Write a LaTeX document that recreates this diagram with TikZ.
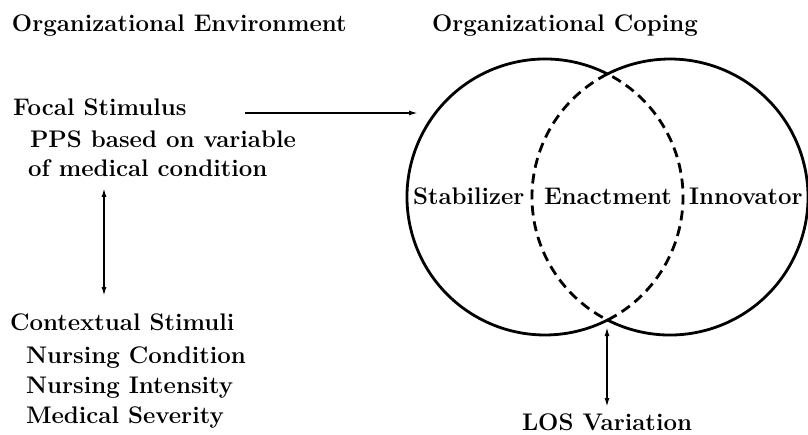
\documentclass[tikz,border=0pt]{standalone}
\usetikzlibrary{arrows.meta}
\tikzset{
  lbl/.style={font=\fontsize{24}{28}\selectfont\bfseries, inner sep=0pt, outer sep=0pt},
  ring/.style={line width=2.8pt},
  ringdash/.style={line width=2.8pt, dash pattern=on 10pt off 6pt},
  link/.style={line width=1.6pt, -{Latex[length=9pt,width=5pt]}},
  twoway/.style={line width=1.6pt, {Latex[length=9pt,width=5pt]}-{Latex[length=9pt,width=5pt]}}
}
\begin{document}
\begin{tikzpicture}[x=1pt,y=1pt]
  \useasboundingbox (0,0) rectangle (808,434);

  % headings
  \node[lbl, anchor=base west] (envtitle) at (12,402) {Organizational Environment};
  \node[lbl, anchor=base] (copetitle) at (565,402) {Organizational Coping};

  % stimuli
  \node[lbl, anchor=base west] (focal) at (13,318) {Focal Stimulus};
  \node[lbl, anchor=base west] (pps) at (30,286) {PPS based on variable};
  \node[lbl, anchor=base west] (ofmed) at (28,257) {of medical condition};

  \node[lbl, anchor=base west] (context) at (10,104) {Contextual Stimuli};
  \node[lbl, anchor=base west] (ncond) at (26,71) {Nursing Condition};
  \node[lbl, anchor=base west] (nint) at (26,41) {Nursing Intensity};
  \node[lbl, anchor=base west] (msev) at (26,11) {Medical Severity};

  % the two coping circles
  \coordinate (L) at (545,237);
  \coordinate (R) at (670,237);
  \draw[ring] (L) ++(62.9:138) arc[start angle=62.9, end angle=297.1, radius=138];
  \draw[ringdash] (L) ++(-62.9:138) arc[start angle=-62.9, end angle=62.9, radius=138];
  \draw[ring] (R) ++(-117.1:138) arc[start angle=-117.1, end angle=117.1, radius=138];
  \draw[ringdash] (R) ++(117.1:138) arc[start angle=117.1, end angle=242.9, radius=138];

  \node[lbl, anchor=base west] (stab) at (413,229) {Stabilizer};
  \node[lbl, anchor=base west] (enact) at (544,229) {Enactment};
  \node[lbl, anchor=base west] (innov) at (689,229) {Innovator};

  \node[lbl, anchor=base] (los) at (607,4) {LOS Variation};

  % connectors
  \coordinate (focalstart) at (245,321);
  \coordinate (focalend) at (418,321);
  \draw[link] (focalstart) -- (focalend);

  \coordinate (vtop) at (104,246);
  \coordinate (vbot) at (104,138);
  \draw[twoway] (vtop) -- (vbot);

  \coordinate (ltop) at (607,107);
  \coordinate (lbot) at (607,27);
  \draw[twoway] (ltop) -- (lbot);
\end{tikzpicture}
\end{document}
